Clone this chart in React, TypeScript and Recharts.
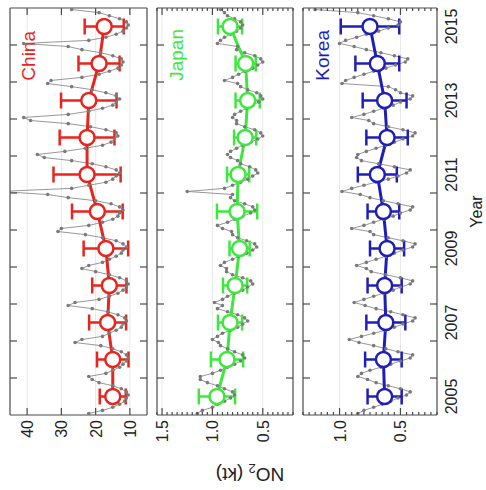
import React from 'react';
import { ComposedChart, Line, XAxis, YAxis, ErrorBar, CartesianGrid } from 'recharts';

const YEARS = [2005, 2006, 2007, 2008, 2009, 2010, 2011, 2012, 2013, 2014, 2015];
const YEAR_LABELS = [2005, 2007, 2009, 2011, 2013, 2015];
const YEAR_TICKS = [2005.5, 2006.5, 2007.5, 2008.5, 2009.5, 2010.5, 2011.5, 2012.5, 2013.5, 2014.5];

const CHINA_MEAN = [15, 15, 16.5, 16, 17, 19.5, 22.5, 22.5, 22, 19, 17.5];
const CHINA_ERR = [3.8, 4.6, 5.4, 5, 6.5, 7.4, 9.8, 8, 8.1, 6, 5.7];
const CHINA_MONTHLY = [
  [22, 18, 15, 13, 11.5, 11, 10.5, 11, 12.5, 15, 19, 21],
  [22, 17, 15, 13, 12, 11, 10.5, 11, 12.5, 15, 18.5, 26],
  [24, 18, 16, 14, 12.5, 12, 11, 11.5, 13.5, 16.5, 21, 28],
  [26, 19, 16, 13.5, 12, 11, 10.5, 11, 13, 16, 20, 24],
  [22, 18, 16, 14, 12.5, 12, 11, 12, 14, 18, 23, 31],
  [30, 22, 18, 15, 13.5, 13, 12, 13, 15.5, 20, 28, 34],
  [48, 27, 22, 17, 15, 14, 13, 14, 17, 21, 27, 35],
  [37, 29, 23, 18, 15.5, 14.5, 13.5, 14, 17, 21.5, 28, 39],
  [41, 28, 22, 18, 15, 14, 13, 14, 17, 21, 27, 34],
  [33, 24, 19, 16, 13.5, 12.5, 12, 12.5, 15, 18.5, 24, 28],
  [41, 22, 17, 14, 12, 11, 10.5, 11, 13, 16, 19, 27],
];

const JAPAN_MEAN = [0.955, 0.855, 0.825, 0.775, 0.73, 0.755, 0.745, 0.675, 0.65, 0.67, 0.825];
const JAPAN_ERR = [0.18, 0.16, 0.12, 0.12, 0.1, 0.2, 0.11, 0.11, 0.12, 0.1, 0.12];
const JAPAN_MONTHLY = [
  [1.15, 1.1, 1.0, 0.95, 0.88, 0.82, 0.78, 0.8, 0.88, 0.95, 1.05, 1.12],
  [1.12, 1.0, 0.92, 0.85, 0.78, 0.72, 0.68, 0.7, 0.78, 0.85, 0.92, 0.94],
  [1.0, 0.95, 0.9, 0.82, 0.75, 0.7, 0.65, 0.68, 0.75, 0.85, 0.95, 0.9],
  [0.98, 0.9, 0.85, 0.78, 0.7, 0.65, 0.6, 0.62, 0.7, 0.8, 0.86, 0.86],
  [0.92, 0.88, 0.8, 0.74, 0.66, 0.6, 0.56, 0.58, 0.66, 0.75, 0.8, 0.81],
  [0.9, 0.95, 0.85, 0.78, 0.7, 0.62, 0.58, 0.6, 0.68, 0.78, 0.82, 0.8],
  [1.25, 0.88, 0.8, 0.72, 0.65, 0.6, 0.55, 0.57, 0.63, 0.72, 0.75, 0.82],
  [0.85, 0.82, 0.76, 0.7, 0.62, 0.55, 0.5, 0.52, 0.58, 0.68, 0.76, 0.76],
  [0.8, 0.78, 0.72, 0.66, 0.6, 0.54, 0.5, 0.52, 0.56, 0.65, 0.72, 0.75],
  [0.88, 0.8, 0.74, 0.68, 0.6, 0.55, 0.5, 0.52, 0.58, 0.68, 0.76, 0.75],
  [0.95, 0.92, 0.88, 0.82, 0.76, 0.72, 0.7, 0.72, 0.78, 0.85, 0.88, 0.92],
];

const KOREA_MEAN = [0.63, 0.64, 0.62, 0.63, 0.61, 0.64, 0.69, 0.61, 0.63, 0.69, 0.75];
const KOREA_ERR = [0.14, 0.15, 0.16, 0.14, 0.14, 0.13, 0.16, 0.17, 0.18, 0.18, 0.24];
const KOREA_MONTHLY = [
  [0.85, 0.8, 0.72, 0.65, 0.58, 0.52, 0.45, 0.42, 0.5, 0.6, 0.7, 0.77],
  [0.85, 0.82, 0.75, 0.66, 0.58, 0.5, 0.42, 0.4, 0.52, 0.62, 0.72, 0.84],
  [0.92, 0.82, 0.72, 0.62, 0.55, 0.48, 0.4, 0.38, 0.48, 0.58, 0.7, 0.79],
  [0.88, 0.8, 0.72, 0.64, 0.56, 0.5, 0.42, 0.4, 0.5, 0.62, 0.74, 0.78],
  [0.86, 0.78, 0.7, 0.62, 0.55, 0.48, 0.4, 0.38, 0.48, 0.6, 0.72, 0.75],
  [0.9, 0.8, 0.72, 0.64, 0.56, 0.5, 0.42, 0.4, 0.52, 0.64, 0.75, 0.83],
  [0.98, 0.9, 0.8, 0.7, 0.6, 0.52, 0.45, 0.42, 0.55, 0.68, 0.82, 0.86],
  [0.85, 0.78, 0.7, 0.62, 0.55, 0.48, 0.4, 0.38, 0.48, 0.6, 0.72, 0.76],
  [0.9, 0.8, 0.72, 0.64, 0.56, 0.5, 0.42, 0.4, 0.5, 0.54, 0.6, 0.98],
  [0.95, 0.88, 0.8, 0.72, 0.62, 0.54, 0.46, 0.44, 0.55, 0.66, 0.78, 0.88],
  [1.0, 0.95, 0.86, 0.78, 0.68, 0.6, 0.52, 0.5, 0.6, 0.72, 0.85, 1.2],
];

const CHINA_MAJOR = [10, 20, 30, 40];
const JAPAN_MAJOR = [0.5, 1.0, 1.5];
const KOREA_MAJOR = [0.5, 1.0];

const RED = '#e8241d';
const GREEN = '#3de83d';
const BLUE = '#1f1fb8';
const FRAME = '#4a4a4a';
const GRAY = '#7a7a7a';
const TEXT = '#222';

function minorTicks(lo: number, hi: number, step: number, majors: number[]) {
  const out: number[] = [];
  for (let k = Math.ceil(lo / step - 1e-9); k * step <= hi + 1e-9; k++) {
    const v = Math.round(k * step * 1000) / 1000;
    if (!majors.some((m) => Math.abs(m - v) < 1e-6)) out.push(v);
  }
  return out;
}

type PanelProps = {
  color: string;
  mean: number[];
  err: number[];
  monthly: number[][];
  domain: [number, number];
  majors: number[];
  minors: number[];
  fmt: (v: number) => string;
  top: number;
  height: number;
  topH: number;
  bottomH: number;
  showYears: boolean;
};

function Panel(props: PanelProps) {
  const { color, mean, err, monthly, domain, majors, minors, fmt, top, height, topH, bottomH, showYears } = props;
  const annual = YEARS.map((y, i) => ({ t: y, v: mean[i], e: err[i] }));
  const months = YEARS.flatMap((y, i) => monthly[i].map((v, m) => ({ t: y - 0.5 + (m + 0.5) / 12, v })));
  const isMajor = (v: number) => majors.some((m) => Math.abs(m - v) < 1e-6);
  const yTicks = [...majors, ...minors];

  const bottomTick = (p: any) => {
    const v = p.payload.value;
    if (Number.isInteger(v)) {
      return (
        <text x={p.x} y={p.y + 20} textAnchor="middle" fontSize={16} fill={TEXT}>
          {v}
        </text>
      );
    }
    return <line x1={p.x} y1={p.y} x2={p.x} y2={p.y - 7} stroke={FRAME} strokeWidth={1.2} />;
  };
  const topTick = (p: any) => <line x1={p.x} y1={p.y} x2={p.x} y2={p.y + 7} stroke={FRAME} strokeWidth={1.2} />;
  const leftTick = (p: any) => {
    const v = p.payload.value;
    const major = isMajor(v);
    return (
      <g>
        <line x1={p.x} y1={p.y} x2={p.x + (major ? 7 : 3)} y2={p.y} stroke={FRAME} strokeWidth={1.2} />
        {major && (
          <text x={p.x - 5} y={p.y + 6} textAnchor="end" fontSize={16} fill={TEXT}>
            {fmt(v)}
          </text>
        )}
      </g>
    );
  };
  const rightTick = (p: any) => {
    const v = p.payload.value;
    const major = isMajor(v);
    return <line x1={p.x} y1={p.y} x2={p.x - (major ? 7 : 3)} y2={p.y} stroke={FRAME} strokeWidth={1.2} />;
  };

  return (
    <div style={{ position: 'absolute', left: 0, top }}>
      <ComposedChart width={490} height={height} margin={{ top: 0, right: 0, bottom: 0, left: 0 }}>
        <CartesianGrid xAxisId="b" yAxisId="l" vertical={false} horizontalValues={majors} stroke="#e8e8e8" />
        <XAxis
          xAxisId="b"
          type="number"
          dataKey="t"
          orientation="bottom"
          domain={[2004.5, 2015.5]}
          allowDataOverflow
          ticks={showYears ? [...YEAR_TICKS, ...YEAR_LABELS] : YEAR_TICKS}
          interval={0}
          height={bottomH}
          tickSize={0}
          tickMargin={0}
          tickLine={false}
          axisLine={{ stroke: FRAME, strokeWidth: 1.2 }}
          tick={bottomTick}
          label={showYears ? { value: 'Year', position: 'insideBottom', offset: 4, fontSize: 16, fill: TEXT } : undefined}
        />
        <XAxis
          xAxisId="t"
          type="number"
          dataKey="t"
          orientation="top"
          domain={[2004.5, 2015.5]}
          allowDataOverflow
          ticks={YEAR_TICKS}
          interval={0}
          height={topH}
          tickSize={0}
          tickMargin={0}
          tickLine={false}
          axisLine={{ stroke: FRAME, strokeWidth: 1.2 }}
          tick={topTick}
        />
        <YAxis
          yAxisId="l"
          type="number"
          orientation="left"
          domain={domain}
          allowDataOverflow
          ticks={yTicks}
          interval={0}
          width={75}
          tickSize={0}
          tickMargin={0}
          tickLine={false}
          axisLine={{ stroke: FRAME, strokeWidth: 1.2 }}
          tick={leftTick}
        />
        <YAxis
          yAxisId="r"
          type="number"
          orientation="right"
          domain={domain}
          allowDataOverflow
          ticks={yTicks}
          interval={0}
          width={8}
          tickSize={0}
          tickMargin={0}
          tickLine={false}
          axisLine={{ stroke: FRAME, strokeWidth: 1.2 }}
          tick={rightTick}
        />
        <Line
          xAxisId="b"
          yAxisId="l"
          data={months}
          dataKey="v"
          stroke="#8c8c8c"
          strokeWidth={0.9}
          dot={{ r: 1.8, fill: GRAY, stroke: 'none' }}
          activeDot={false}
          isAnimationActive={false}
        />
        <Line
          xAxisId="b"
          yAxisId="l"
          data={annual}
          dataKey="v"
          stroke={color}
          strokeWidth={3}
          dot={{ r: 7.5, fill: '#fff', stroke: color, strokeWidth: 2.5 }}
          activeDot={false}
          isAnimationActive={false}
        >
          <ErrorBar dataKey="e" width={8} stroke={color} strokeWidth={2.5} direction="y" />
        </Line>
      </ComposedChart>
    </div>
  );
}

export default function App() {
  return (
    <div
      style={{
        position: 'absolute',
        left: 0,
        top: 0,
        width: 490,
        height: 486,
        background: '#fff',
        transformOrigin: '0 0',
        transform: 'translateY(490px) rotate(-90deg)',
        fontFamily: '"Liberation Sans", Arial, sans-serif',
      }}
    >
      <Panel
        color={RED}
        mean={CHINA_MEAN}
        err={CHINA_ERR}
        monthly={CHINA_MONTHLY}
        domain={[5, 45]}
        majors={CHINA_MAJOR}
        minors={[]}
        fmt={(v) => String(v)}
        top={0}
        height={150}
        topH={10}
        bottomH={3}
        showYears={false}
      />
      <Panel
        color={GREEN}
        mean={JAPAN_MEAN}
        err={JAPAN_ERR}
        monthly={JAPAN_MONTHLY}
        domain={[0.2, 1.55]}
        majors={JAPAN_MAJOR}
        minors={minorTicks(0.2, 1.55, 0.05, JAPAN_MAJOR)}
        fmt={(v) => v.toFixed(1)}
        top={150}
        height={146}
        topH={7}
        bottomH={3}
        showYears={false}
      />
      <Panel
        color={BLUE}
        mean={KOREA_MEAN}
        err={KOREA_ERR}
        monthly={KOREA_MONTHLY}
        domain={[0.2, 1.3]}
        majors={KOREA_MAJOR}
        minors={minorTicks(0.2, 1.3, 0.05, KOREA_MAJOR)}
        fmt={(v) => v.toFixed(1)}
        top={296}
        height={190}
        topH={7}
        bottomH={49}
        showYears={true}
      />
      <svg width={490} height={486} style={{ position: 'absolute', left: 0, top: 0, pointerEvents: 'none' }}>
        <text x={459} y={35} textAnchor="end" fontSize={19} fill={RED}>China</text>
        <text x={461} y={183} textAnchor="end" fontSize={19} fill={GREEN}>Japan</text>
        <text x={460} y={329} textAnchor="end" fontSize={19} fill={BLUE}>Korea</text>
        <text transform="translate(22,250) rotate(-90)" textAnchor="middle" fontSize={19} fill={TEXT}>
          NO<tspan fontSize={13} dy={4}>2</tspan>
          <tspan dy={-4}> (kt)</tspan>
        </text>
      </svg>
    </div>
  );
}
